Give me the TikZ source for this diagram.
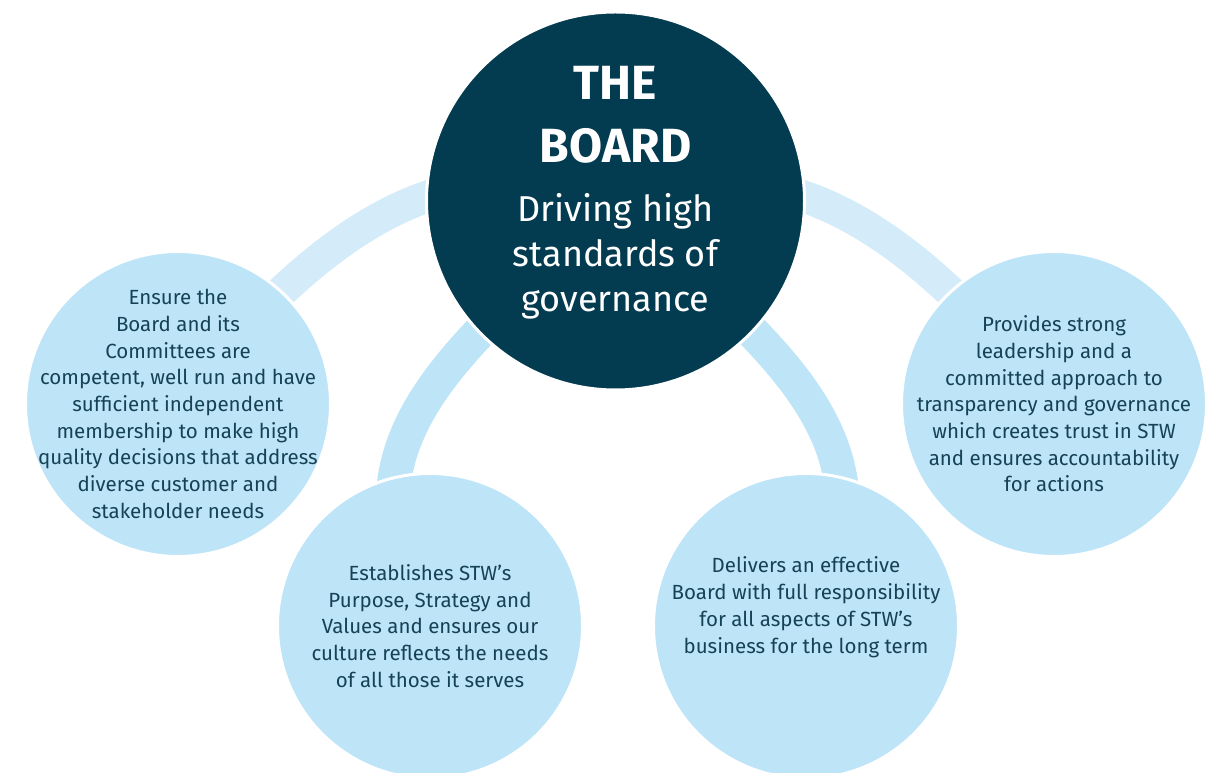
\documentclass[tikz,border=0pt]{standalone}
\usepackage{fontspec}
\setmainfont{Fira Sans}
\usetikzlibrary{backgrounds}
\definecolor{navy}{RGB}{3,59,80}
\definecolor{sky}{RGB}{190,228,248}
\definecolor{pale}{RGB}{212,236,250}
\definecolor{ink}{RGB}{22,66,86}
\newcommand{\bigline}{\fontsize{48}{45}\selectfont\bfseries}
\tikzset{core/.style={circle,draw=white,line width=3pt,fill=navy,text=white,minimum size=378pt,inner sep=-50pt,align=center,font=\fontsize{36}{45}\selectfont},aim/.style={circle,draw=white,line width=3pt,fill=sky,text=ink,minimum size=305pt,inner sep=-50pt,align=center,font=\fontsize{20.5}{26.7}\selectfont},upperband/.style={draw=pale,line width=32pt},lowerband/.style={draw=sky,line width=34pt}}

\begin{document}
\begin{tikzpicture}[x=1pt,y=1pt]
\useasboundingbox (0,0) rectangle (1221,773);
%the board
\node (board) at (615.5,572)[core,text depth=24pt]{\bigline THE\\[18pt]\bigline BOARD\\[14pt]Driving high\\standards of\\governance};

%aims
\node (ensure) at (178,369)[aim]{Ensure the\\Board and its\\Committees are\\competent, well run and have\\sufficient independent\\membership to make high\\quality decisions that address\\diverse customer and\\stakeholder needs};
\node (provides) at (1054,369)[aim]{Provides strong\\leadership and a\\committed approach to\\transparency and governance\\which creates trust in STW\\and ensures accountability\\for actions};
\node (establish) at (430,147)[aim]{Establishes STW’s\\Purpose, Strategy and\\Values and ensures our\\culture reflects the needs\\of all those it serves};
\node (deliver) at (806,147)[aim,text depth=42pt]{Delivers an effective\\Board with full responsibility\\for all aspects of STW’s\\business for the long term};

%bands
\begin{scope}[on background layer]
\draw[upperband] (ensure.center) .. controls +(50:190) and +(160:200) .. (board.center);
\draw[upperband] (provides.center) .. controls +(130:190) and +(20:200) .. (board.center);
\draw[lowerband] (establish.center) .. controls +(120:220) and +(225:200) .. (board.center);
\draw[lowerband] (deliver.center) .. controls +(60:220) and +(-45:200) .. (board.center);
\end{scope}
\end{tikzpicture}
\end{document}
